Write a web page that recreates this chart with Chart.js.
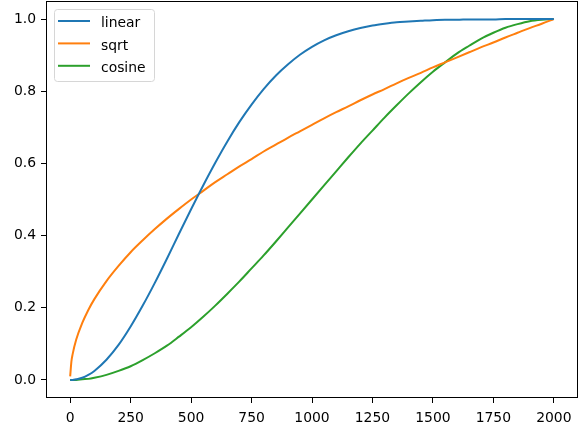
<!DOCTYPE html>
<html>
<head>
<meta charset="utf-8">
<script src="https://cdn.jsdelivr.net/npm/chart.js@4.4.1/dist/chart.umd.min.js"></script>
<style>
  html, body { margin: 0; padding: 0; background: #fff; }
  canvas { display: block; }
</style>
</head>
<body>
<canvas id="js-schedules" width="581" height="425"></canvas>
<script>
// timesteps the curves were read at (denser near 0 where sqrt is steep)
const steps = [0, 5, 10, 25, 50, 75, 100, 150, 200, 250, 300, 350, 400, 450, 500,
  550, 600, 650, 700, 750, 800, 850, 900, 950, 1000, 1050, 1100, 1150, 1200, 1250,
  1300, 1350, 1400, 1450, 1500, 1550, 1600, 1650, 1700, 1750, 1800, 1850, 1900, 1950, 2000]

const linearVals = [0, 0, 0, 0.002, 0.006, 0.014, 0.025, 0.056, 0.097, 0.148, 0.206, 0.269, 0.336, 0.405, 0.473,
  0.539, 0.602, 0.661, 0.715, 0.763, 0.806, 0.843, 0.874, 0.901, 0.923, 0.941, 0.955, 0.966, 0.975, 0.982,
  0.987, 0.991, 0.993, 0.995, 0.997, 0.998, 0.998, 0.999, 0.999, 0.999, 1.0, 1.0, 1.0, 1.0, 1.0]

const sqrtVals = [0.010, 0.051, 0.071, 0.112, 0.158, 0.194, 0.224, 0.274, 0.316, 0.354, 0.387, 0.418, 0.447, 0.474, 0.500,
  0.524, 0.548, 0.570, 0.592, 0.612, 0.633, 0.652, 0.671, 0.689, 0.707, 0.725, 0.742, 0.758, 0.775, 0.791,
  0.806, 0.822, 0.837, 0.851, 0.866, 0.880, 0.894, 0.908, 0.922, 0.935, 0.949, 0.962, 0.975, 0.987, 1.0]

const cosineVals = [0, 0, 0, 0, 0.002, 0.003, 0.006, 0.014, 0.025, 0.038, 0.055, 0.074, 0.095, 0.120, 0.146,
  0.175, 0.206, 0.239, 0.273, 0.309, 0.345, 0.383, 0.422, 0.461, 0.500, 0.539, 0.578, 0.617, 0.655, 0.691,
  0.727, 0.761, 0.794, 0.825, 0.854, 0.880, 0.905, 0.926, 0.946, 0.962, 0.976, 0.986, 0.994, 0.998, 1.0]

const xTicks = [0, 250, 500, 750, 1000, 1250, 1500, 1750, 2000]
const yTicks = [0, 0.2, 0.4, 0.6, 0.8, 1.0]

const FONT = 'DejaVu Sans'

function points(vals) {
  return steps.map((s, i) => ({x: s, y: vals[i]}))
}

function dataset(label, vals, color) {
  return {
      label: label
    , data: points(vals)
    , borderColor: color
    , backgroundColor: color
    , borderWidth: 2
    , pointRadius: 0
    , fill: false
    , cubicInterpolationMode: 'monotone'
  }
}

// no extra room for overhanging tick labels, the axes box is fixed
function noPadding(s) {
  s.paddingTop = 0
  s.paddingBottom = 0
  s.paddingLeft = 0
  s.paddingRight = 0
}

// all four spines, like matplotlib
const frame = {
  id: 'frame',
  afterDatasetsDraw(chart) {
    const a = chart.chartArea, ctx = chart.ctx
    ctx.save()
    ctx.strokeStyle = '#000'
    ctx.lineWidth = 1
    ctx.strokeRect(Math.round(a.left) + 0.5, Math.round(a.top) + 0.5,
      Math.round(a.right - a.left) - 1, Math.round(a.bottom - a.top) - 1)
    ctx.restore()
  }
}

// legend box in the upper left of the plot
const legendBox = {
  id: 'legendBox',
  afterDraw(chart) {
    const ctx = chart.ctx
    ctx.save()
    ctx.beginPath()
    ctx.roundRect(54.5, 9.5, 100, 72, 3)
    ctx.fillStyle = 'rgba(255,255,255,0.8)'
    ctx.fill()
    ctx.strokeStyle = '#d6d6d6'
    ctx.lineWidth = 1
    ctx.stroke()
    ctx.font = '13.9px "' + FONT + '"'
    ctx.textBaseline = 'alphabetic'
    ctx.textAlign = 'left'
    chart.data.datasets.forEach((ds, i) => {
      const y = 21 + i * 22.4
      ctx.beginPath()
      ctx.moveTo(58, y)
      ctx.lineTo(90, y)
      ctx.strokeStyle = ds.borderColor
      ctx.lineWidth = 2
      ctx.stroke()
      ctx.fillStyle = '#000'
      ctx.fillText(ds.label, 101, y + 6.4)
    })
    ctx.restore()
  }
}

const tickFont = {family: FONT, size: 13.9}

new Chart(document.getElementById('js-schedules').getContext('2d'), {
  type: 'line'
, data: {
    datasets: [
      dataset('linear', linearVals, '#1f77b4')
    , dataset('sqrt',   sqrtVals,   '#ff7f0e')
    , dataset('cosine', cosineVals, '#2ca02c')
    ]
  }
, options: {
    responsive: false
  , animation: false
  , devicePixelRatio: 1
  , layout: {padding: {top: 1, right: 3, left: 0, bottom: 0}}
  , plugins: {legend: {display: false}, tooltip: {enabled: false}}
  , scales: {
      x: {
        type: 'linear'
      , min: -100
      , max: 2100
      , afterBuildTicks: (s) => { s.ticks = xTicks.map((v) => ({value: v})) }
      , afterFit: (s) => { s.height = 27; noPadding(s) }
      , grid: {drawOnChartArea: false, drawTicks: true, tickLength: 5, color: '#000', lineWidth: 1}
      , border: {display: false}
      , ticks: {font: tickFont, color: '#000', padding: 7, maxRotation: 0, autoSkip: false,
          callback: (v) => String(v)}
      }
    , y: {
        type: 'linear'
      , min: -0.05
      , max: 1.05
      , afterBuildTicks: (s) => { s.ticks = yTicks.map((v) => ({value: v})) }
      , afterFit: (s) => { s.width = 46; noPadding(s) }
      , grid: {drawOnChartArea: false, drawTicks: true, tickLength: 5, color: '#000', lineWidth: 1}
      , border: {display: false}
      , ticks: {font: tickFont, color: '#000', padding: 5, autoSkip: false,
          callback: (v) => v.toFixed(1)}
      }
    }
  }
, plugins: [frame, legendBox]
})
</script>
</body>
</html>
